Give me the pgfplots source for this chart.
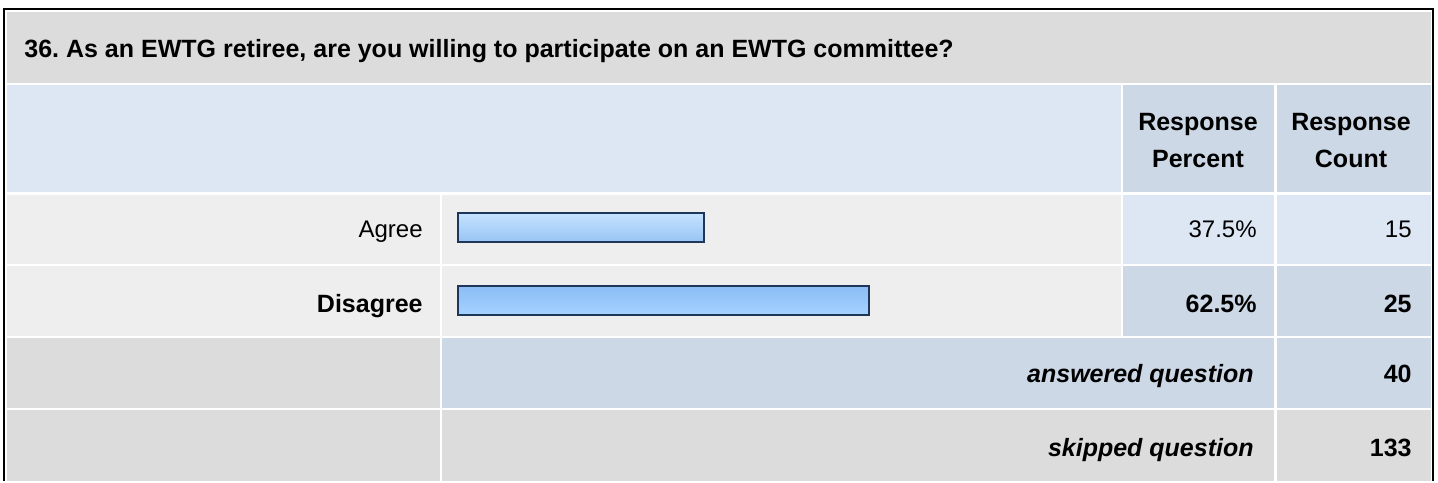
\documentclass[border=0pt]{standalone}
\usepackage{fontspec}
\setmainfont{Liberation Sans}
\usepackage{pgfplots}
\pgfplotsset{compat=1.18}
\definecolor{titlegray}{HTML}{DCDCDC}
\definecolor{lightblue}{HTML}{DDE7F4}
\definecolor{midblue}{HTML}{CCD8E6}
\definecolor{rowgray}{HTML}{EEEEEE}
\definecolor{barborder}{HTML}{1E3658}
\definecolor{bartop}{HTML}{C6E2FF}
\definecolor{barmid}{HTML}{75AEEC}
\definecolor{barbot}{HTML}{A5D1FF}
\newcommand\fs{\fontsize{12}{14}\selectfont}
\newcommand\fb{\fontsize{12.5}{14}\selectfont\bfseries}
\frenchspacing
\begin{document}
\begin{tikzpicture}
\begin{axis}[at={(0,0)}, anchor=south west, scale only axis,
  width=719pt, height=240.5pt,
  xmin=0, xmax=1438, ymin=0, ymax=481, y dir=reverse,
  hide axis, clip=false]
% background
\fill[white] (axis cs:0,0) rectangle (axis cs:1438,481);
% title row
\fill[titlegray] (axis cs:7,12) rectangle (axis cs:1430.5,83);
% header row
\fill[lightblue] (axis cs:7,85) rectangle (axis cs:1120.5,192.3);
\fill[midblue] (axis cs:1122.5,85) rectangle (axis cs:1274,192.3);
\fill[midblue] (axis cs:1276.5,85) rectangle (axis cs:1430.5,192.3);
% Agree row
\fill[rowgray] (axis cs:7,194.5) rectangle (axis cs:440,264);
\fill[rowgray] (axis cs:442,194.5) rectangle (axis cs:1120.5,264);
\fill[lightblue] (axis cs:1122.5,194.5) rectangle (axis cs:1274,264);
\fill[lightblue] (axis cs:1276.5,194.5) rectangle (axis cs:1430.5,264);
% Disagree row
\fill[rowgray] (axis cs:7,266) rectangle (axis cs:440,336);
\fill[rowgray] (axis cs:442,266) rectangle (axis cs:1120.5,336);
\fill[midblue] (axis cs:1122.5,266) rectangle (axis cs:1274,336);
\fill[midblue] (axis cs:1276.5,266) rectangle (axis cs:1430.5,336);
% answered row
\fill[titlegray] (axis cs:7,338) rectangle (axis cs:440,407.5);
\fill[midblue] (axis cs:442,338) rectangle (axis cs:1274,407.5);
\fill[midblue] (axis cs:1276.5,338) rectangle (axis cs:1430.5,407.5);
% skipped row
\fill[titlegray] (axis cs:7,409.5) rectangle (axis cs:440,481);
\fill[titlegray] (axis cs:442,409.5) rectangle (axis cs:1274,481);
\fill[titlegray] (axis cs:1276.5,409.5) rectangle (axis cs:1430.5,481);
% outer frame
\draw[black, line width=1.1pt] (axis cs:4,481) -- (axis cs:4,9) -- (axis cs:1432.6,9) -- (axis cs:1432.6,481);
% texts
\node[anchor=base west, inner sep=0pt, font=\fb] at (axis cs:24,57.7) {36. As an EWTG retiree, are you willing to participate on an EWTG committee?};
\node[anchor=base, inner sep=0pt, font=\fb] at (axis cs:1198,130.7) {Response};
\node[anchor=base, inner sep=0pt, font=\fb] at (axis cs:1198,167.7) {Percent};
\node[anchor=base, inner sep=0pt, font=\fb] at (axis cs:1351,130.7) {Response};
\node[anchor=base, inner sep=0pt, font=\fb] at (axis cs:1351,167.7) {Count};
\node[anchor=base east, inner sep=0pt, font=\fs] at (axis cs:423,237) {Agree};
\node[anchor=base east, inner sep=0pt, font=\fb] at (axis cs:423,312) {Disagree};
\node[anchor=base east, inner sep=0pt, font=\fs] at (axis cs:1257,237) {37.5\%};
\node[anchor=base east, inner sep=0pt, font=\fb] at (axis cs:1257,312) {62.5\%};
\node[anchor=base east, inner sep=0pt, font=\fs] at (axis cs:1412,237) {15};
\node[anchor=base east, inner sep=0pt, font=\fb] at (axis cs:1412,312) {25};
\node[anchor=base east, inner sep=0pt, font=\fb\itshape] at (axis cs:1254,382.5) {answered question};
\node[anchor=base east, inner sep=0pt, font=\fb] at (axis cs:1412,382.5) {40};
\node[anchor=base east, inner sep=0pt, font=\fb\itshape] at (axis cs:1254,456) {skipped question};
\node[anchor=base east, inner sep=0pt, font=\fb] at (axis cs:1412,456) {133};
\end{axis}
\begin{axis}[at={(229pt,72.375pt)}, anchor=south west, scale only axis,
  width=328.5pt, height=72.5pt,
  xmin=0, xmax=100, ymin=-0.5, ymax=1.5, y dir=reverse,
  hide axis, clip=false, xbar, bar width=14.5pt]
\addplot[xbar, draw=barborder, line width=1pt, top color=bartop, bottom color=barbot, middle color=barmid]
  coordinates {(37.5,0) (62.5,1)};
\end{axis}
\end{tikzpicture}
\end{document}
